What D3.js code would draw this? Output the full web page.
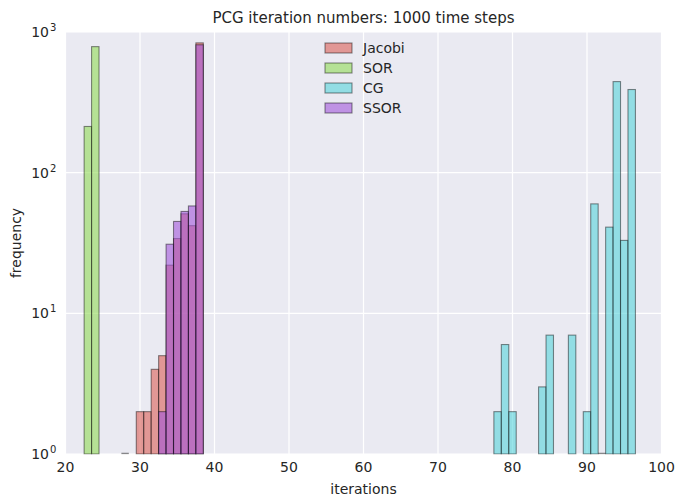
<!DOCTYPE html>
<html>
<head>
<meta charset="utf-8">
<script src="https://cdn.jsdelivr.net/npm/d3@7"></script>
<style>
  html, body { margin: 0; padding: 0; background: #ffffff; }
  svg { display: block; font-family: "DejaVu Sans", sans-serif; }
</style>
</head>
<body>
<svg id="chart" width="676" height="498"></svg>
<script>
// ---- data (iteration bin centre -> frequency) ----
const seriesNames = ["Jacobi", "SOR", "CG", "SSOR"];
const seriesColors = ["#db5f57", "#91db57", "#57d3db", "#a157db"];

const jacobiIters  = [28, 30, 31, 32, 33, 34, 35, 36, 37, 38];
const jacobiCounts = [1, 2, 2, 4, 5, 22, 34, 51, 42, 837];

const sorIters  = [23, 24];
const sorCounts = [213, 787];

const cgIters  = [78, 79, 80, 84, 85, 88, 90, 91, 92, 93, 94, 95, 96];
const cgCounts = [2, 6, 2, 3, 7, 7, 2, 60, 1, 41, 444, 33, 390];

const ssorIters  = [33, 34, 35, 36, 37, 38];
const ssorCounts = [2, 31, 45, 53, 58, 811];

const xTicks = [20, 30, 40, 50, 60, 70, 80, 90, 100];
const yTicks = [1, 10, 100, 1000];
const yTickExps = ["0", "1", "2", "3"];

const titleText = "PCG iteration numbers: 1000 time steps";
const xLabel = "iterations";
const yLabel = "frequency";

// ---- layout ----
const svg = d3.select("#chart");
const pL = 65.5, pR = 661.5, pT = 32, pB = 454;
const x = d3.scaleLinear().domain([20, 100]).range([pL, pR]);
const y = d3.scaleLog().domain([1, 1000]).range([pB, pT]);

svg.append("rect").attr("x", pL).attr("y", pT)
  .attr("width", pR - pL).attr("height", pB - pT)
  .attr("fill", "#eaeaf2");

svg.append("defs").append("clipPath").attr("id", "clip")
  .append("rect").attr("x", pL).attr("y", pT - 1)
  .attr("width", pR - pL).attr("height", pB - pT + 1.5);

// grid
const grid = svg.append("g");
grid.selectAll("line.vx").data(xTicks).join("line")
  .attr("x1", d => x(d)).attr("x2", d => x(d))
  .attr("y1", pT).attr("y2", pB)
  .attr("stroke", "#ffffff").attr("stroke-width", 1.2);
grid.selectAll("line.hy").data(yTicks).join("line")
  .attr("y1", d => y(d)).attr("y2", d => y(d))
  .attr("x1", pL).attr("x2", pR)
  .attr("stroke", "#ffffff").attr("stroke-width", 1.2);

// bars
const series = [
  { name: seriesNames[0], color: seriesColors[0], iters: jacobiIters, counts: jacobiCounts },
  { name: seriesNames[1], color: seriesColors[1], iters: sorIters, counts: sorCounts },
  { name: seriesNames[2], color: seriesColors[2], iters: cgIters, counts: cgCounts },
  { name: seriesNames[3], color: seriesColors[3], iters: ssorIters, counts: ssorCounts }
];
const alpha = 0.6;
const plot = svg.append("g").attr("clip-path", "url(#clip)");
series.forEach(s => {
  const data = s.iters.map((it, i) => ({ it, c: s.counts[i] }));
  const g = plot.append("g");
  g.selectAll("rect").data(data.filter(d => d.c > 1)).join("rect")
    .attr("x", d => x(d.it - 0.5))
    .attr("width", d => x(d.it + 0.5) - x(d.it - 0.5))
    .attr("y", d => y(d.c))
    .attr("height", d => y(1) - y(d.c))
    .attr("fill", s.color).attr("fill-opacity", alpha)
    .attr("stroke", "#000").attr("stroke-opacity", 0.45).attr("stroke-width", 1.1);
  g.selectAll("line").data(data.filter(d => d.c === 1)).join("line")
    .attr("x1", d => x(d.it - 0.5)).attr("x2", d => x(d.it + 0.5))
    .attr("y1", d => y(d.c) - 0.5).attr("y2", d => y(d.c) - 0.5)
    .attr("stroke", "#000").attr("stroke-opacity", 0.45).attr("stroke-width", 1.4);
});

// x tick labels
svg.append("g").selectAll("text").data(xTicks).join("text")
  .attr("x", d => x(d)).attr("y", pB + 18)
  .attr("text-anchor", "middle").attr("font-size", 14).attr("fill", "#262626")
  .text(d => d);

// y tick labels 10^n
svg.append("g").selectAll("text").data(yTicks).join("text")
  .attr("x", 49).attr("y", d => y(d) + 5)
  .attr("text-anchor", "end").attr("font-size", 14).attr("fill", "#262626")
  .text("10");
svg.append("g").selectAll("text").data(yTicks).join("text")
  .attr("x", 50).attr("y", d => y(d) - 1)
  .attr("text-anchor", "start").attr("font-size", 10).attr("fill", "#262626")
  .text((d, i) => yTickExps[i]);

// axis labels
svg.append("text").attr("x", (pL + pR) / 2).attr("y", 494)
  .attr("text-anchor", "middle").attr("font-size", 14).attr("fill", "#262626")
  .text(xLabel);
svg.append("text")
  .attr("transform", `translate(21,${(pT + pB) / 2}) rotate(-90)`)
  .attr("text-anchor", "middle").attr("font-size", 14).attr("fill", "#262626")
  .text(yLabel);

// title
svg.append("text").attr("x", (pL + pR) / 2).attr("y", 23)
  .attr("text-anchor", "middle").attr("font-size", 15).attr("fill", "#262626")
  .text(titleText);

// legend
const lg = svg.append("g");
series.forEach((s, i) => {
  const cy = 48 + i * 20;
  lg.append("rect").attr("x", 325).attr("y", cy - 5).attr("width", 27).attr("height", 10)
    .attr("fill", s.color).attr("fill-opacity", alpha)
    .attr("stroke", "#000").attr("stroke-opacity", 0.45).attr("stroke-width", 1.1);
  lg.append("text").attr("x", 363).attr("y", cy + 5)
    .attr("font-size", 14).attr("fill", "#262626").text(s.name);
});
</script>
</body>
</html>
